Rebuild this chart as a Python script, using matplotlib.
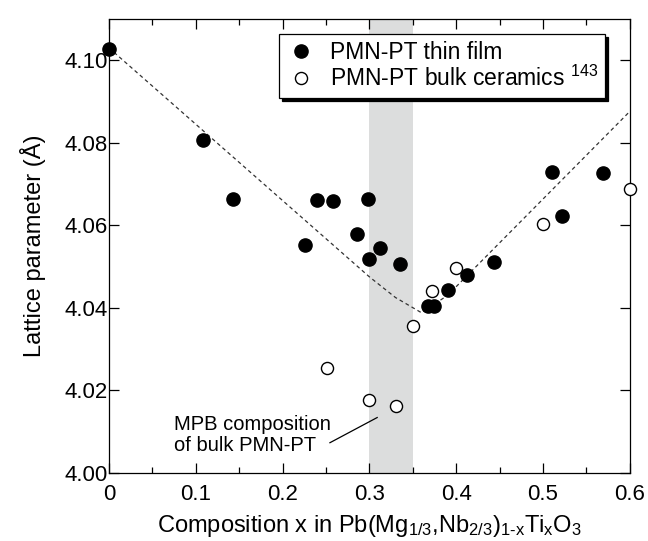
import numpy as np
import matplotlib
matplotlib.use("Agg")
import matplotlib.pyplot as plt

plt.rcParams['font.family'] = ['Liberation Sans', 'DejaVu Sans']
plt.rcParams['mathtext.fontset'] = 'custom'
plt.rcParams['mathtext.rm'] = 'Liberation Sans'
plt.rcParams['mathtext.it'] = 'Liberation Sans:italic'

# thin film data (filled circles)
film_x = [0.0, 0.108, 0.143, 0.226, 0.240, 0.258, 0.286, 0.298, 0.300, 0.312,
          0.335, 0.368, 0.374, 0.390, 0.413, 0.444, 0.510, 0.522, 0.569]
film_y = [4.1027, 4.0807, 4.0663, 4.0553, 4.0661, 4.0658, 4.0578, 4.0663, 4.0518, 4.0544,
          4.0505, 4.0405, 4.0405, 4.0443, 4.0480, 4.0511, 4.0730, 4.0622, 4.0727]

# bulk ceramics data (open circles)
bulk_x = [0.251, 0.300, 0.331, 0.350, 0.372, 0.400, 0.500, 0.600]
bulk_y = [4.0253, 4.0176, 4.0163, 4.0355, 4.0440, 4.0497, 4.0602, 4.0688]

# dashed guide to the eye
guide_x = [0.0, 0.30, 0.33, 0.36, 0.39, 0.60]
guide_y = [4.103, 4.0475, 4.0425, 4.0388, 4.0430, 4.0876]

# MPB band and its label
mpb_lo, mpb_hi = 0.30, 0.35
note_text = 'MPB composition\nof bulk PMN-PT'
note_pos = (0.075, 4.0092)
leader_x = [0.2546, 0.309]
leader_y = [4.0073, 4.0134]

fig = plt.figure(figsize=(6.48, 5.41), dpi=100)
ax = fig.add_axes([0.168, 0.126, 0.804, 0.839])

ax.axvspan(mpb_lo, mpb_hi, color='#dcdddd', lw=0, zorder=0)
ax.plot(guide_x, guide_y, ls=(0, (3, 2.5)), color='#333333', lw=0.9, zorder=1)

ax.plot(film_x, film_y, 'o', color='black', ms=9.5, ls='none',
        label='PMN-PT thin film', zorder=3, clip_on=False)
ax.plot(bulk_x, bulk_y, 'o', mfc='white', mec='black', mew=1.0, ms=8.7, ls='none',
        label=r'PMN-PT bulk ceramics $^{\mathregular{143}}$', zorder=3, clip_on=False)

ax.text(note_pos[0], note_pos[1], note_text, fontsize=14.5, va='center', ha='left',
        linespacing=1.1)
ax.plot(leader_x, leader_y, color='black', lw=0.9, zorder=2)

ax.set_xlim(0, 0.6)
ax.set_ylim(4.00, 4.11)
ax.set_xticks([0, 0.1, 0.2, 0.3, 0.4, 0.5, 0.6])
ax.set_xticklabels(['0', '0.1', '0.2', '0.3', '0.4', '0.5', '0.6'])
ax.set_xticks(np.arange(0.05, 0.6, 0.1), minor=True)
ax.set_yticks([4.00, 4.02, 4.04, 4.06, 4.08, 4.10])
ax.set_yticklabels(['4.00', '4.02', '4.04', '4.06', '4.08', '4.10'])
ax.tick_params(which='both', direction='in', top=True, right=True, labelsize=16, width=0.9)
ax.tick_params(which='major', length=7)
ax.tick_params(which='minor', length=4)
ax.tick_params(axis='x', which='major', pad=8)
ax.tick_params(axis='y', which='major', pad=1)
for s in ax.spines.values():
    s.set_linewidth(0.9)

ax.set_xlabel(r'Composition x in Pb(Mg$_{\mathregular{1/3}}$,Nb$_{\mathregular{2/3}}$)$_{\mathregular{1\text{-}x}}$Ti$_{\mathregular{x}}$O$_{\mathregular{3}}$',
              fontsize=17, labelpad=6)
ax.set_ylabel('Lattice parameter (Å)', fontsize=17, labelpad=13)

leg = ax.legend(loc='upper right', bbox_to_anchor=(0.952, 0.967), borderaxespad=0,
                fontsize=16.5, frameon=True, fancybox=False, framealpha=1,
                edgecolor='black', handletextpad=0.6, labelspacing=0.1,
                borderpad=0.3, handlelength=1.3,
                shadow={'color': 'black', 'alpha': 1})
leg.get_frame().set_linewidth(0.9)

fig.savefig('out.png', dpi=100)
